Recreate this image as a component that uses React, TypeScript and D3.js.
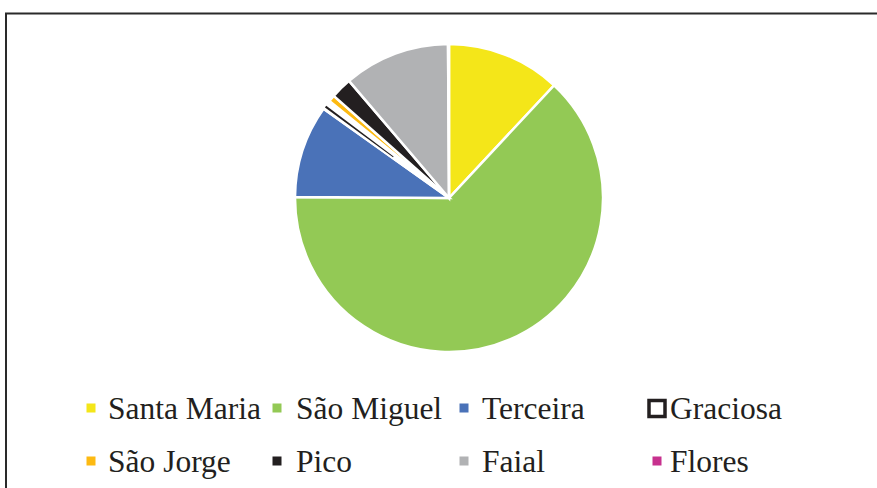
import React from "react";
import * as d3 from "d3";

const categories = ["Santa Maria", "São Miguel", "Terceira", "Graciosa", "São Jorge", "Pico", "Faial", "Flores"];
const values = [11.9, 62.9, 9.7, 1.0, 0.7, 2.2, 11.1, 0.1];
const colors = ["#F4E619", "#93C955", "#4A72B8", "#FFFFFF", "#FDBA12", "#231F20", "#B1B2B4", "#C7318E"];

const W = 877;
const H = 488;
const cx = 449;
const cy = 198;
const R = 154;

export default function App() {
  const pie = d3.pie<number>().sort(null).value((d) => d)(values);
  const arc = d3.arc<d3.PieArcDatum<number>>().innerRadius(0).outerRadius(R);
  const edgeArc = d3.arc<d3.PieArcDatum<number>>().innerRadius(R * 0.45).outerRadius(R - 0.5);

  const colX = [91, 277, 464, 657];
  const textX = [108, 296, 482, 670];
  const rowY = [408, 461];

  return (
    <svg width={W} height={H} style={{ position: "absolute", left: 0, top: 0, background: "#fff" }}>
      <rect x={6} y={13.5} width={W + 20} height={H + 20} fill="#fff" stroke="#2a2a2a" strokeWidth={2} />
      <g transform={`translate(${cx},${cy})`}>
        {pie.map((p, i) => (
          <path
            key={categories[i]}
            d={arc(p) || ""}
            fill={colors[i]}
            stroke="#fff"
            strokeWidth={2.5}
            strokeLinejoin="miter"
          />
        ))}
        {pie.map((p, i) =>
          categories[i] === "Graciosa" ? (
            <path
              key={"o" + i}
              d={edgeArc({ ...p, startAngle: p.startAngle + 0.012, endAngle: p.startAngle + 0.026 }) || ""}
              fill="#231F20"
            />
          ) : null
        )}
      </g>
      <g fontFamily="'Liberation Serif', 'Times New Roman', serif" fontSize={31.5} fill="#231F20">
        {categories.map((c, i) => {
          const col = i % 4;
          const row = Math.floor(i / 4);
          const y = rowY[row];
          const mx = colX[col];
          const isHollow = c === "Graciosa";
          return (
            <g key={c}>
              {isHollow ? (
                <rect x={mx - 8} y={y - 7.5} width={16} height={16} fill="#fff" stroke="#231F20" strokeWidth={3.5} />
              ) : (
                <rect x={mx - 4.5} y={y - 4.5} width={9} height={9} fill={colors[i]} />
              )}
              <text x={textX[col]} y={y + 10.5}>{c}</text>
            </g>
          );
        })}
      </g>
    </svg>
  );
}
